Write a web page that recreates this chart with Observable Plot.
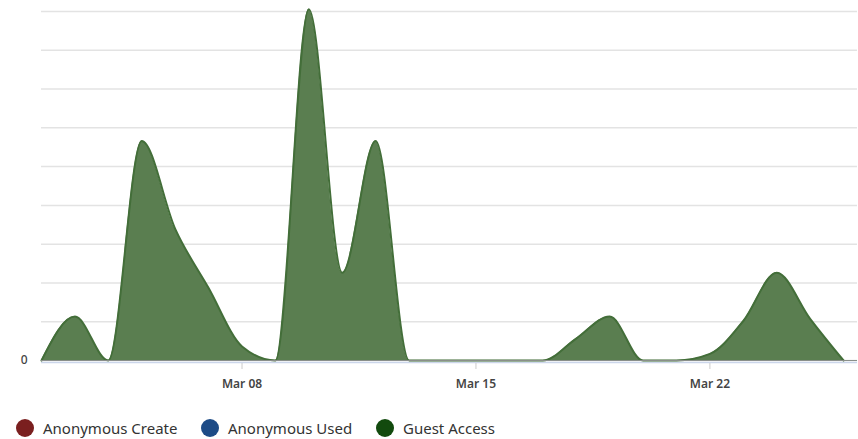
<!DOCTYPE html>
<html>
<head>
<meta charset="utf-8">
<script src="https://cdn.jsdelivr.net/npm/d3@7"></script>
<script src="https://cdn.jsdelivr.net/npm/@observablehq/plot@0.6"></script>
<style>
  html, body { margin: 0; padding: 0; background: #fff; }
  #chart { width: 858px; height: 400px; }
  #legend { position: relative; height: 39px; font-family: "Noto Sans", "Open Sans", sans-serif; font-size: 15px; color: #333; }
  .item { position: absolute; top: 18px; display: flex; align-items: center; white-space: nowrap; }
  .dot { width: 18px; height: 18px; border-radius: 50%; margin-right: 9px; }
</style>
</head>
<body>
<div id="chart"></div>
<div id="legend"></div>
<script>
// ---- data ----
const days = [
  "2024-03-02","2024-03-03","2024-03-04","2024-03-05","2024-03-06","2024-03-07",
  "2024-03-08","2024-03-09","2024-03-10","2024-03-11","2024-03-12","2024-03-13",
  "2024-03-14","2024-03-15","2024-03-16","2024-03-17","2024-03-18","2024-03-19",
  "2024-03-20","2024-03-21","2024-03-22","2024-03-23","2024-03-24","2024-03-25",
  "2024-03-26"
];
const guestAccess = [0, 1, 0, 5, 3, 1.65, 0.32, 0, 8, 2, 5, 0, 0, 0, 0, 0, 0.5, 1, 0, 0, 0.15, 0.9, 2, 0.95, 0];
const seriesNames = ["Anonymous Create", "Anonymous Used", "Guest Access"];
const seriesColors = ["#7a1f1f", "#1d4b86", "#124a0e"];
const xTickDates = ["2024-03-08", "2024-03-15", "2024-03-22"];
const yGridValues = [0, 0.883, 1.767, 2.65, 3.533, 4.417, 5.3, 6.183, 7.067, 7.95];
const yLabelValues = [0];
const xDomain = ["2024-03-02T00:00Z", "2024-03-26T10:00Z"];

const data = days.map((d, i) => ({date: new Date(d + "T00:00Z"), value: guestAccess[i]}));
const xDom = xDomain.map(d => new Date(d));

const chart = Plot.plot({
  width: 858,
  height: 400,
  marginLeft: 41,
  marginRight: 1,
  marginTop: 11,
  marginBottom: 40,
  style: {fontFamily: "'Noto Sans', 'Open Sans', sans-serif", background: "#fff"},
  x: {type: "utc", domain: xDom},
  y: {domain: [0, 7.95]},
  marks: [
    Plot.gridY(yGridValues, {stroke: "#e3e3e3", strokeOpacity: 1, strokeWidth: 1.5}),
    Plot.ruleY([0], {stroke: "#ccd6eb", dy: 2, strokeWidth: 1.5}),
    Plot.areaY(data, {x: "date", y: "value", curve: "monotone-x", fill: "#5a7e50", fillOpacity: 1}),
    Plot.lineY(data, {x: "date", y: "value", curve: "monotone-x", stroke: "#436e39", strokeWidth: 2}),
    Plot.ruleY([0], {stroke: "#8a8f8a", strokeWidth: 1, x1: xDom[0], x2: xDom[1]}),
    Plot.axisY(yLabelValues, {tickSize: 0, tickPadding: 14, label: null, fontSize: 12, fontWeight: 500, fill: "#444"}),
    Plot.axisX(xTickDates.map(d => new Date(d + "T00:00Z")), {
      tickFormat: d3.utcFormat("%b %d"), tickSize: 6, stroke: "#ccc", tickPadding: 10,
      label: null, fontSize: 12, fontWeight: 600, fill: "#444", dy: 3
    })
  ]
});
document.getElementById("chart").appendChild(chart);

// legend
const legend = document.getElementById("legend");
const lefts = [16, 201, 376];
seriesNames.forEach((name, i) => {
  const item = document.createElement("div");
  item.className = "item";
  item.style.left = lefts[i] + "px";
  const dot = document.createElement("span");
  dot.className = "dot";
  dot.style.background = seriesColors[i];
  const label = document.createElement("span");
  label.textContent = name;
  item.appendChild(dot);
  item.appendChild(label);
  legend.appendChild(item);
});
</script>
</body>
</html>
